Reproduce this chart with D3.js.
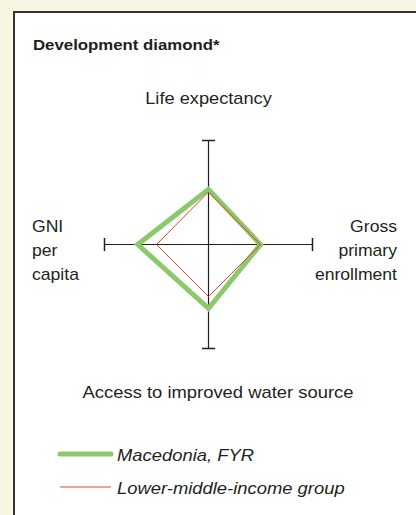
<!DOCTYPE html>
<html>
<head>
<meta charset="utf-8">
<script src="https://cdn.jsdelivr.net/npm/d3@7"></script>
<style>
  body { margin: 0; background: #f9f5e3; }
  svg { display: block; }
  text { font-family: "Liberation Sans", Arial, sans-serif; fill: #231f20; }
</style>
</head>
<body>
<svg id="chart" width="416" height="515"></svg>
<script>
// --- datos ---
const axisNames = ["Life expectancy", "Gross primary enrollment", "Access to improved water source", "GNI per capita"];
const macedonia = [0.53, 0.50, 0.615, 0.68];
const lowerMiddle = [0.505, 0.50, 0.50, 0.50];
const seriesNames = ["Macedonia, FYR", "Lower-middle-income group"];

const width = 416, height = 515;
const cx = 208.5, cy = 244.5, radius = 104;

const svg = d3.select("#chart");

// panel blanco con borde
svg.append("rect")
    .attr("x", 14).attr("y", 12)
    .attr("width", width).attr("height", height)
    .attr("fill", "#fff")
    .attr("stroke", "#333")
    .attr("stroke-width", 2);

// texto estirado en horizontal como en la imagen
function label(x, y, str, opts = {}) {
    const t = svg.append("text")
        .attr("transform", `translate(${x},${y}) scale(${opts.sx || 1.13},1)`)
        .attr("text-anchor", opts.anchor || "start")
        .style("font-size", (opts.size || 16) + "px")
        .text(str);
    if (opts.bold) t.style("font-weight", "bold");
    if (opts.italic) t.style("font-style", "italic");
    return t;
}

label(33, 50, "Development diamond*", {size: 14, bold: true, sx: 1.2});

const r = d3.scaleLinear().domain([0, 1]).range([0, radius]);
const angles = axisNames.map((d, i) => i * Math.PI / 2);

const g = svg.append("g").attr("transform", `translate(${cx},${cy})`);

// ejes con topes
angles.forEach(a => {
    const x = Math.sin(a) * r(1), y = -Math.cos(a) * r(1);
    g.append("line")
        .attr("x1", 0).attr("y1", 0).attr("x2", x).attr("y2", y)
        .attr("stroke", "#231f20").attr("stroke-width", 1.2);
    const cap = 6.5;
    const px = Math.cos(a) * cap, py = Math.sin(a) * cap;
    g.append("line")
        .attr("x1", x - px).attr("y1", y - py)
        .attr("x2", x + px).attr("y2", y + py)
        .attr("stroke", "#231f20").attr("stroke-width", 1.5);
});

const radial = d3.lineRadial()
    .angle((d, i) => angles[i])
    .radius(d => r(d))
    .curve(d3.curveLinearClosed);

g.append("path")
    .attr("d", radial(macedonia))
    .attr("fill", "none")
    .attr("stroke", "#8cc96c")
    .attr("stroke-width", 5);

g.append("path")
    .attr("d", radial(lowerMiddle))
    .attr("fill", "none")
    .attr("stroke", "#e8452c")
    .attr("stroke-width", 1);

// etiquetas de los ejes
label(cx, 104, "Life expectancy", {anchor: "middle", sx: 1.14});
label(218, 398, "Access to improved water source", {anchor: "middle", sx: 1.15});
["GNI", "per", "capita"].forEach((s, i) => label(32, 232 + i * 24, s, {sx: 1.1}));
["Gross", "primary", "enrollment"].forEach((s, i) => label(397, 232 + i * 24, s, {anchor: "end", sx: 1.1}));

// leyenda
const legend = [
    {name: seriesNames[0], color: "#8cc96c", w: 5, y: 454},
    {name: seriesNames[1], color: "#e8452c", w: 1, y: 487}
];
legend.forEach(d => {
    svg.append("line")
        .attr("x1", 60).attr("x2", 111)
        .attr("y1", d.y).attr("y2", d.y)
        .attr("stroke", d.color)
        .attr("stroke-width", d.w)
        .attr("stroke-linecap", d.w > 1 ? "round" : "butt");
    label(117, d.y + 7, d.name, {italic: true, sx: 1.15});
});
</script>
</body>
</html>
